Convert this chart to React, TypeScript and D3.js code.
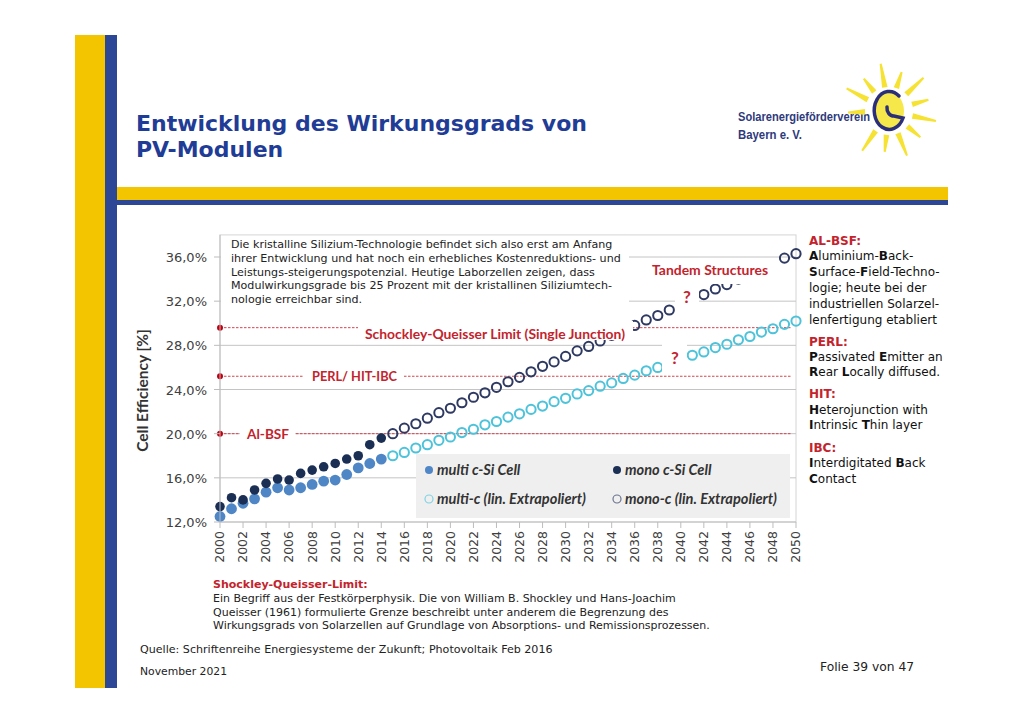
import * as d3 from "d3"
import { useEffect, useRef } from "react"

// measured cell efficiencies (%)
const measuredYears = [2000, 2001, 2002, 2003, 2004, 2005, 2006, 2007, 2008, 2009, 2010, 2011, 2012, 2013, 2014]
const multiCell = [12.5, 13.2, 13.7, 14.1, 14.7, 15.1, 14.9, 15.1, 15.4, 15.7, 15.8, 16.3, 16.9, 17.3, 17.7]
const monoCell = [13.4, 14.2, 14.0, 14.9, 15.5, 15.9, 15.8, 16.4, 16.7, 17.0, 17.3, 17.7, 18.0, 19.0, 19.6]

// linear extrapolation (%)
const extrapYears = [
  2015, 2016, 2017, 2018, 2019, 2020, 2021, 2022, 2023, 2024, 2025, 2026, 2027, 2028, 2029, 2030, 2031, 2032,
  2033, 2034, 2035, 2036, 2037, 2038, 2039, 2040, 2041, 2042, 2043, 2044, 2045, 2046, 2047, 2048, 2049, 2050,
]
const multiExtrap = [
  18.0, 18.3, 18.7, 19.0, 19.4, 19.7, 20.1, 20.4, 20.8, 21.1, 21.5, 21.8, 22.2, 22.5, 22.9, 23.2, 23.6, 23.9,
  24.3, 24.6, 25.0, 25.3, 25.7, 26.0, 26.4, 26.7, 27.1, 27.4, 27.8, 28.1, 28.5, 28.8, 29.2, 29.5, 29.9, 30.2,
]
const monoExtrap = [
  20.0, 20.5, 20.9, 21.4, 21.9, 22.3, 22.8, 23.3, 23.7, 24.2, 24.7, 25.1, 25.6, 26.1, 26.5, 27.0, 27.5, 27.9,
  28.4, 28.9, 29.3, 29.8, 30.3, 30.7, 31.2, 31.7, 32.1, 32.6, 33.1, 33.5, 34.0, 34.5, 34.9, 35.4, 35.9, 36.3,
]

const xTickYears = [
  2000, 2002, 2004, 2006, 2008, 2010, 2012, 2014, 2016, 2018, 2020, 2022, 2024, 2026, 2028, 2030, 2032, 2034,
  2036, 2038, 2040, 2042, 2044, 2046, 2048, 2050,
]
const yTickValues = [12, 16, 20, 24, 28, 32, 36]

const refNames = ["Schockley-Queisser Limit (Single Junction)", "PERL/ HIT-IBC", "Al-BSF"]
const refValues = [29.6, 25.2, 20.0]

const legendLabels = ["multi c-Si Cell", "mono c-Si Cell", "multi-c (lin. Extrapoliert)", "mono-c (lin. Extrapoliert)"]

const boxLines = [
  "Die kristalline Silizium-Technologie befindet sich also erst am Anfang",
  "ihrer Entwicklung und hat noch ein erhebliches Kostenreduktions- und",
  "Leistungs-steigerungspotenzial. Heutige Laborzellen zeigen, dass",
  "Modulwirkungsgrade bis 25 Prozent mit der kristallinen Siliziumtech-",
  "nologie erreichbar sind.",
]

// [text, bold] segments; red headings marked with "#"
const sideNotes: [string, boolean][][] = [
  [["#AL-BSF:", true]],
  [["A", true], ["luminium-", false], ["B", true], ["ack-", false]],
  [["S", true], ["urface-", false], ["F", true], ["ield-Techno-", false]],
  [["logie; heute bei der", false]],
  [["industriellen Solarzel-", false]],
  [["lenfertigung etabliert", false]],
  [["#PERL:", true]],
  [["P", true], ["assivated ", false], ["E", true], ["mitter an", false]],
  [["R", true], ["ear ", false], ["L", true], ["ocally diffused.", false]],
  [["#HIT:", true]],
  [["H", true], ["eterojunction with", false]],
  [["I", true], ["ntrinsic ", false], ["T", true], ["hin layer", false]],
  [["#IBC:", true]],
  [["I", true], ["nterdigitated ", false], ["B", true], ["ack", false]],
  [["C", true], ["ontact", false]],
]
const sideNoteY = [245, 260, 276, 292, 308, 324, 346, 361, 376, 398, 414, 429, 452, 467, 483]

const footLines = [
  "Ein Begriff aus der Festkörperphysik. Die von William B. Shockley und Hans-Joachim",
  "Queisser (1961) formulierte Grenze beschreibt unter anderem die Begrenzung des",
  "Wirkungsgrads von Solarzellen auf Grundlage von Absorptions- und Remissionsprozessen.",
]

const RED = "#c3232c"
const VERD = "'DejaVu Sans', Verdana, sans-serif"
const CALI = "Lato, 'Open Sans', sans-serif"

const App = () => {
  const svgRef = useRef<SVGSVGElement | null>(null)

  useEffect(() => {
    if (!svgRef.current) return
    const svg = d3.select(svgRef.current)
    svg.selectAll("*").remove()

    // page decoration
    svg.append("rect").attr("x", 0).attr("y", 0).attr("width", 1024).attr("height", 724).attr("fill", "#fff")
    svg.append("rect").attr("x", 75).attr("y", 35).attr("width", 30).attr("height", 653).attr("fill", "#f3c400")
    svg.append("rect").attr("x", 105).attr("y", 35).attr("width", 12).attr("height", 653).attr("fill", "#2c4795")
    svg.append("rect").attr("x", 117).attr("y", 187).attr("width", 831).attr("height", 13).attr("fill", "#f3c400")
    svg.append("rect").attr("x", 117).attr("y", 200).attr("width", 831).attr("height", 5).attr("fill", "#2c4795")

    const title = svg
      .append("text")
      .attr("font-family", VERD)
      .attr("font-weight", "bold")
      .attr("font-size", 22)
      .attr("fill", "#1f3c96")
    title.append("tspan").attr("x", 136).attr("y", 131).text("Entwicklung des Wirkungsgrads von")
    title.append("tspan").attr("x", 136).attr("y", 157).text("PV-Modulen")

    // logo
    const logo = svg.append("g")
    logo
      .append("text")
      .attr("x", 738)
      .attr("y", 121)
      .attr("font-family", "'Liberation Sans', sans-serif")
      .attr("font-weight", "bold")
      .attr("font-size", 13)
      .attr("textLength", 132)
      .attr("lengthAdjust", "spacingAndGlyphs")
      .attr("fill", "#2e3a7c")
      .text("Solarenergieförderverein")
    logo
      .append("text")
      .attr("x", 738)
      .attr("y", 139)
      .attr("font-family", "'Liberation Sans', sans-serif")
      .attr("font-weight", "bold")
      .attr("font-size", 13)
      .attr("textLength", 64)
      .attr("lengthAdjust", "spacingAndGlyphs")
      .attr("fill", "#2e3a7c")
      .text("Bayern e. V.")
    const cx = 889
    const cy = 111
    const rayAngles = [-100, -72, -44, -16, 12, 40, 68, 96, 124, 178, -152, -128]
    rayAngles.forEach((a, i) => {
      const r0 = 24
      const r1 = i % 2 === 0 ? 48 : 41
      const t = (a * Math.PI) / 180
      const n = t + Math.PI / 2
      const w = 2.8
      const p = [
        [cx + r0 * Math.cos(t) + w * Math.cos(n), cy + r0 * Math.sin(t) + w * Math.sin(n)],
        [cx + r1 * Math.cos(t) + 1 * Math.cos(n), cy + r1 * Math.sin(t) + 1 * Math.sin(n)],
        [cx + r1 * Math.cos(t) - 1 * Math.cos(n), cy + r1 * Math.sin(t) - 1 * Math.sin(n)],
        [cx + r0 * Math.cos(t) - w * Math.cos(n), cy + r0 * Math.sin(t) - w * Math.sin(n)],
      ]
      logo.append("path").attr("d", "M" + p.map(q => q.join(",")).join("L") + "Z").attr("fill", "#f6e232")
    })
    logo.append("ellipse").attr("cx", cx).attr("cy", cy).attr("rx", 15).attr("ry", 19).attr("fill", "#f6e84a")
    logo
      .append("path")
      .attr(
        "d",
        `M${cx + 10},${cy - 15} A15,19 0 1,0 ${cx + 14},${cy + 7} L${cx + 5},${cy + 5} A7,8 0 0,1 ${cx - 2},${cy - 4}`
      )
      .attr("fill", "none")
      .attr("stroke", "#2b2f7a")
      .attr("stroke-width", 3.5)
      .attr("stroke-linecap", "round")

    // chart
    const x = d3.scaleLinear().domain([2000, 2050]).range([220, 796])
    const y = d3.scaleLinear().domain([12, 36]).range([522, 257])
    const top = y(38)

    svg
      .append("rect")
      .attr("x", x(2000))
      .attr("y", top)
      .attr("width", x(2050) - x(2000))
      .attr("height", y(12) - top)
      .attr("fill", "#fff")
      .attr("stroke", "#d4d4d4")

    svg
      .append("g")
      .selectAll("line")
      .data(yTickValues.slice(1))
      .enter()
      .append("line")
      .attr("x1", x(2000))
      .attr("x2", x(2050))
      .attr("y1", d => y(d))
      .attr("y2", d => y(d))
      .attr("stroke", "#c4c4c4")

    // reference lines
    refValues.forEach(v => {
      svg
        .append("line")
        .attr("x1", x(2000))
        .attr("x2", x(2050) - 4)
        .attr("y1", y(v))
        .attr("y2", y(v))
        .attr("stroke", "#d8444c")
        .attr("stroke-width", 1)
        .attr("stroke-dasharray", "2.5,1.5")
      svg.append("circle").attr("cx", x(2000)).attr("cy", y(v)).attr("r", 3).attr("fill", "#c00010")
    })

    // data points
    const mk = (ys: number[], xs: number[]) => xs.map((yr, i) => ({ yr, v: ys[i] }))
    const dots = svg.append("g")
    dots
      .selectAll(".multi")
      .data(mk(multiCell, measuredYears))
      .enter()
      .append("circle")
      .attr("cx", d => x(d.yr))
      .attr("cy", d => y(d.v))
      .attr("r", 5.4)
      .attr("fill", "#4f86c6")
    dots
      .selectAll(".mono")
      .data(mk(monoCell, measuredYears))
      .enter()
      .append("circle")
      .attr("cx", d => x(d.yr))
      .attr("cy", d => y(d.v))
      .attr("r", 4.8)
      .attr("fill", "#1b2f55")
    dots
      .selectAll(".multiX")
      .data(mk(multiExtrap, extrapYears))
      .enter()
      .append("circle")
      .attr("cx", d => x(d.yr))
      .attr("cy", d => y(d.v))
      .attr("r", 4.6)
      .attr("fill", "none")
      .attr("stroke", "#4cc3da")
      .attr("stroke-width", 2)
    dots
      .selectAll(".monoX")
      .data(mk(monoExtrap, extrapYears))
      .enter()
      .append("circle")
      .attr("cx", d => x(d.yr))
      .attr("cy", d => y(d.v))
      .attr("r", 4.6)
      .attr("fill", "none")
      .attr("stroke", "#2f3a63")
      .attr("stroke-width", 2)

    // white label boxes covering lines and points
    const box = (bx: number, by: number, bw: number, bh: number) =>
      svg.append("rect").attr("x", bx).attr("y", by).attr("width", bw).attr("height", bh).attr("fill", "#fff")
    box(x(2000) + 1, top + 1, 408, 71)
    box(358, 321, 275, 19)
    box(304, 369, 100, 16)
    box(240, 427, 55, 15)
    box(648, 258, 131, 26)
    box(675, 288, 24, 26)
    box(662, 344, 25, 30)

    const tb = svg
      .append("text")
      .attr("font-family", VERD)
      .attr("font-size", 11.1)
      .attr("fill", "#222")
    boxLines.forEach((l, i) => tb.append("tspan").attr("x", 231).attr("y", 248 + i * 13.8).text(l))

    const redLabel = (t: string, lx: number, ly: number, len?: number) => {
      const el = svg
        .append("text")
        .attr("x", lx)
        .attr("y", ly)
        .attr("font-family", CALI)
        .attr("font-weight", "bold")
        .attr("font-size", 13.5)
        .attr("fill", RED)
        .text(t)
      if (len) el.attr("textLength", len).attr("lengthAdjust", "spacingAndGlyphs")
    }
    redLabel(refNames[0], 365, y(refValues[0]) + 11, 260)
    redLabel(refNames[1], 312, y(refValues[1]) + 5, 85)
    redLabel(refNames[2], 247, y(refValues[2]) + 5, 42)
    redLabel("Tandem Structures", 652, 275, 116)
    svg
      .append("text")
      .attr("x", 687)
      .attr("y", 303)
      .attr("text-anchor", "middle")
      .attr("font-family", CALI)
      .attr("font-weight", "bold")
      .attr("font-size", 17)
      .attr("fill", RED)
      .text("?")
    svg
      .append("text")
      .attr("x", 675)
      .attr("y", 364)
      .attr("text-anchor", "middle")
      .attr("font-family", CALI)
      .attr("font-weight", "bold")
      .attr("font-size", 17)
      .attr("fill", RED)
      .text("?")

    // legend
    svg.append("rect").attr("x", 416).attr("y", 454).attr("width", 374).attr("height", 64).attr("fill", "#efefef")
    const legPos = [
      [429, 470],
      [617, 470],
      [429, 499],
      [617, 499],
    ]
    const legStyle = [
      { fill: "#4f86c6", stroke: "none" },
      { fill: "#1b2f55", stroke: "none" },
      { fill: "none", stroke: "#7fd3e4" },
      { fill: "none", stroke: "#6b7390" },
    ]
    legendLabels.forEach((l, i) => {
      const [lx, ly] = legPos[i]
      svg
        .append("circle")
        .attr("cx", lx)
        .attr("cy", ly)
        .attr("r", 4)
        .attr("fill", legStyle[i].fill)
        .attr("stroke", legStyle[i].stroke)
        .attr("stroke-width", 1.2)
      svg
        .append("text")
        .attr("x", lx + 8)
        .attr("y", ly + 5)
        .attr("font-family", CALI)
        .attr("font-weight", "bold")
        .attr("font-style", "italic")
        .attr("font-size", 14.6)
        .attr("fill", "#333")
        .text(l)
    })

    // axes
    const axisCol = "#bdbdbd"
    svg.append("line").attr("x1", x(2000)).attr("x2", x(2000)).attr("y1", top).attr("y2", y(12)).attr("stroke", axisCol)
    svg.append("line").attr("x1", x(2000)).attr("x2", x(2050)).attr("y1", y(12)).attr("y2", y(12)).attr("stroke", axisCol)
    yTickValues.forEach(v => {
      svg.append("line").attr("x1", x(2000) - 6).attr("x2", x(2000)).attr("y1", y(v)).attr("y2", y(v)).attr("stroke", axisCol)
      svg
        .append("text")
        .attr("x", 207)
        .attr("y", y(v) + 5)
        .attr("text-anchor", "end")
        .attr("font-family", VERD)
        .attr("font-size", 13)
        .attr("fill", "#404040")
        .text(v.toFixed(1).replace(".", ",") + "%")
    })
    xTickYears.forEach(yr => {
      svg.append("line").attr("x1", x(yr)).attr("x2", x(yr)).attr("y1", y(12)).attr("y2", y(12) + 6).attr("stroke", axisCol)
      svg
        .append("text")
        .attr("transform", `translate(${x(yr)},${y(12) + 9}) rotate(-90)`)
        .attr("dy", "0.35em")
        .attr("text-anchor", "end")
        .attr("font-family", VERD)
        .attr("font-size", 12.5)
        .attr("fill", "#404040")
        .text(String(yr))
    })
    svg
      .append("text")
      .attr("transform", `translate(148,${(top + y(12)) / 2 + 12}) rotate(-90)`)
      .attr("text-anchor", "middle")
      .attr("font-family", CALI)
      .attr("font-weight", "bold")
      .attr("font-size", 15.5)
      .attr("fill", "#333")
      .text("Cell Efficiency [%]")

    // side notes
    sideNotes.forEach((segs, i) => {
      const t = svg
        .append("text")
        .attr("x", 809)
        .attr("y", sideNoteY[i])
        .attr("font-family", VERD)
        .attr("font-size", 12)
        .attr("fill", "#111")
      segs.forEach(([s, b]) => {
        const red = s.startsWith("#")
        t.append("tspan")
          .attr("font-weight", b ? "bold" : "normal")
          .attr("fill", red ? RED : "#111")
          .text(red ? s.slice(1) : s)
      })
    })

    // footer
    svg
      .append("text")
      .attr("x", 213)
      .attr("y", 588)
      .attr("font-family", VERD)
      .attr("font-weight", "bold")
      .attr("font-size", 11)
      .attr("fill", RED)
      .text("Shockley-Queisser-Limit:")
    footLines.forEach((l, i) => {
      svg
        .append("text")
        .attr("x", 213)
        .attr("y", 602 + i * 13.7)
        .attr("font-family", VERD)
        .attr("font-size", 11)
        .attr("fill", "#222")
        .text(l)
    })
    svg
      .append("text")
      .attr("x", 140)
      .attr("y", 653)
      .attr("font-family", VERD)
      .attr("font-size", 11.1)
      .attr("fill", "#222")
      .text("Quelle: Schriftenreihe Energiesysteme der Zukunft; Photovoltaik Feb 2016")
    svg
      .append("text")
      .attr("x", 140)
      .attr("y", 675)
      .attr("font-family", VERD)
      .attr("font-size", 10.8)
      .attr("fill", "#222")
      .text("November 2021")
    svg
      .append("text")
      .attr("x", 820)
      .attr("y", 671)
      .attr("font-family", VERD)
      .attr("font-size", 12.3)
      .attr("fill", "#222")
      .text("Folie 39 von 47")
  }, [])

  return (
    <div style={{ position: "fixed", left: 0, top: 0 }}>
      <svg ref={svgRef} width={1024} height={724} style={{ display: "block" }} />
    </div>
  )
}

export default App
